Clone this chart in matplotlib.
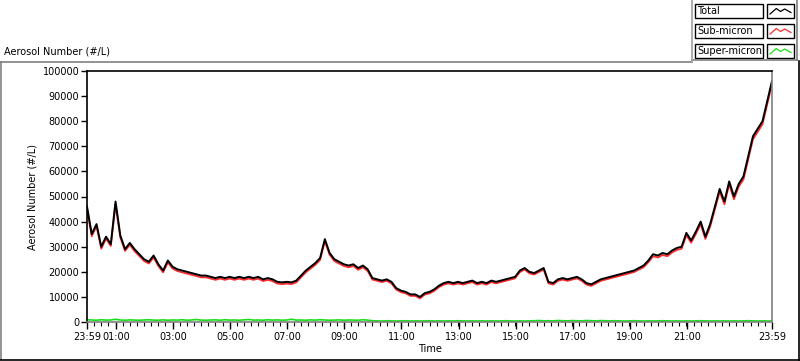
import numpy as np
import matplotlib
matplotlib.use("Agg")
import matplotlib.pyplot as plt
from matplotlib.patches import Rectangle
from matplotlib.lines import Line2D

plt.rcParams['font.family'] = ['DejaVu Sans']
plt.rcParams['font.size'] = 7

# ---------------- data (10-minute samples starting 23:59) ----------------
step_minutes = 10

total = [
    46000, 35000, 39000, 30000, 34000, 31000, 48000, 34500, 29000, 31500,
    29000, 27000, 25000, 24000, 26500, 23000, 20500, 24500, 22000, 21000,
    20500, 20000, 19500, 19000, 18500, 18500, 18000, 17500, 18000, 17500,
    18000, 17500, 18000, 17500, 18000, 17500, 18000, 17000, 17500, 17000,
    16000, 15800, 16000, 15800, 16500, 18500, 20500, 22000, 23500, 25500,
    33000, 27500, 25000, 24000, 23000, 22500, 23000, 21500, 22500, 21000,
    17500, 17000, 16500, 17000, 16000, 13500, 12500, 12000, 11000, 11000,
    10000, 11500, 12000, 13000, 14500, 15500, 16000, 15500, 16000, 15500,
    16000, 16500, 15500, 16000, 15500, 16500, 16000, 16500, 17000, 17500,
    18000, 20500, 21500, 20000, 19500, 20500, 21500, 16000, 15500, 17000,
    17500, 17000, 17500, 18000, 17000, 15500, 15000, 16000, 17000, 17500,
    18000, 18500, 19000, 19500, 20000, 20500, 21500, 22500, 24500, 27000,
    26500, 27500, 27000, 28500, 29500, 30000, 35500, 32500, 36000, 40000,
    34000, 39000, 46000, 53000, 48000, 56000, 50000, 55000, 58000, 66000,
    74000, 77000, 80000, 88000, 96000,
]

sub_micron = [
    45000, 34200, 38200, 29200, 33200, 30300, 46800, 33700, 28300, 30800,
    28200, 26300, 24300, 23300, 25700, 22300, 19800, 23700, 21300, 20300,
    19800, 19300, 18800, 18300, 17800, 17800, 17300, 16800, 17300, 16800,
    17300, 16800, 17300, 16800, 17300, 16800, 17300, 16300, 16800, 16300,
    15300, 15100, 15300, 15100, 15800, 17800, 19800, 21300, 22800, 24700,
    32200, 26800, 24300, 23300, 22300, 21800, 22300, 20800, 21800, 20300,
    16900, 16400, 15900, 16400, 15400, 12900, 11900, 11400, 10400, 10400,
    9400, 10900, 11400, 12400, 13900, 14900, 15400, 14900, 15400, 14900,
    15400, 15900, 14900, 15400, 14900, 15900, 15400, 15900, 16400, 16900,
    17400, 19900, 20900, 19400, 18900, 19900, 20900, 15400, 14900, 16400,
    16900, 16400, 16900, 17400, 16400, 14900, 14400, 15400, 16400, 16900,
    17400, 17900, 18400, 18900, 19400, 19900, 20900, 21800, 23800, 26200,
    25700, 26700, 26200, 27700, 28700, 29200, 34600, 31600, 35100, 39000,
    33100, 38000, 45000, 51900, 46900, 54900, 48900, 53900, 56800, 64800,
    72800, 75800, 78800, 86800, 94800,
]

super_micron = [
    900, 800, 700, 900, 750, 800, 1100, 800, 700, 850,
    750, 700, 800, 900, 750, 700, 850, 700, 800, 750,
    900, 700, 800, 1000, 750, 700, 800, 850, 700, 900,
    750, 800, 700, 850, 1000, 750, 800, 700, 900, 750,
    850, 700, 800, 1100, 750, 800, 700, 850, 750, 900,
    800, 700, 750, 850, 700, 800, 750, 700, 900, 750,
    500, 450, 400, 500, 450, 400, 450, 500, 400, 450,
    400, 450, 500, 400, 450, 400, 450, 400, 500, 450,
    400, 450, 400, 450, 400, 450, 400, 450, 500, 450,
    400, 450, 400, 450, 500, 600, 450, 500, 450, 600,
    500, 450, 550, 500, 450, 600, 500, 450, 550, 500,
    450, 500, 450, 400, 450, 500, 450, 400, 450, 400,
    450, 500, 450, 400, 450, 400, 450, 400, 450, 500,
    450, 400, 450, 400, 450, 400, 450, 400, 450, 500,
    450, 400, 450, 400, 450,
]

x_tick_labels = ['23:59', '01:00', '03:00', '05:00', '07:00', '09:00', '11:00',
                 '13:00', '15:00', '17:00', '19:00', '21:00', '23:59']
y_ticks = [0, 10000, 20000, 30000, 40000, 50000, 60000, 70000, 80000, 90000, 100000]
series_names = ['Total', 'Sub-micron', 'Super-micron']
series_colors = ['#000000', '#ff2a2a', '#18e018']

# ---------------- figure ----------------
W, H = 800, 361
fig = plt.figure(figsize=(W / 100, H / 100), dpi=100)
fig.patch.set_facecolor('white')


def fx(x):
    return x / W


def fy(y):
    return 1 - y / H


# outer frame (3d style)
frame_lines = [
    ((0, 692), (61.5, 61.5), '#808080'),
    ((1, 1), (61.5, 359), '#808080'),
    ((0, 800), (359.5, 359.5), '#000000'),
    ((798.5, 798.5), (61, 360), '#000000'),
    ((692, 797), (60, 60), '#808080'),
    ((692, 692), (0, 61), '#a0a0a0'),
    ((796.5, 796.5), (0, 60), '#808080'),
]
for xs, ys, c in frame_lines:
    fig.add_artist(Line2D([fx(v) for v in xs], [fy(v) for v in ys],
                          color=c, lw=1.2, transform=fig.transFigure))

# main axes
ax = fig.add_axes([fx(87), fy(322), (772 - 87) / W, (322 - 71) / H])
n = len(total)
hours = np.arange(n) * step_minutes / 60.0

ax.plot(hours, super_micron, color=series_colors[2], lw=1.2)
ax.plot(hours, sub_micron, color=series_colors[1], lw=1.3)
ax.plot(hours, total, color=series_colors[0], lw=1.4)

ax.set_xlim(0, 24)
ax.set_ylim(0, 100000)


def label_to_hours(lbl, i):
    if i == len(x_tick_labels) - 1:
        return 24.0
    h, m = map(int, lbl.split(':'))
    return ((h * 60 + m + 1) % 1440) / 60.0


xt = [label_to_hours(l, i) for i, l in enumerate(x_tick_labels)]
ax.set_xticks(xt)
ax.set_xticklabels(x_tick_labels)
ax.set_xticks(np.arange(0.25, 24, 0.25), minor=True)
ax.set_yticks(y_ticks)
ax.set_yticklabels([str(v) for v in y_ticks])

ax.tick_params(axis='y', which='major', length=4, width=1, color='black', pad=1.5,
               labelsize=7)
ax.tick_params(axis='x', which='major', length=5, width=1, color='black', pad=2,
               labelsize=7)
ax.tick_params(axis='x', which='minor', length=3, width=0.8, color='black')

ax.spines['left'].set_color('black')
ax.spines['top'].set_color('black')
ax.spines['right'].set_color('#808080')
ax.spines['bottom'].set_color('#808080')
for s in ax.spines.values():
    s.set_linewidth(1.2)

ax.set_xlabel('Time', fontsize=7, labelpad=2)
ax.set_ylabel('Aerosol Number (#/L)', fontsize=7, labelpad=4)

fig.text(fx(4), fy(51), 'Aerosol Number (#/L)', fontsize=7, va='center', ha='left')

# legend panel
rows_y = [(4, 18), (24, 38), (44, 58)]
for (y0, y1), name, col in zip(rows_y, series_names, series_colors):
    fig.add_artist(Rectangle((fx(695), fy(y1)), (763 - 695) / W, (y1 - y0) / H,
                             fill=False, ec='black', lw=1, transform=fig.transFigure))
    fig.text(fx(697), fy((y0 + y1) / 2 + 0.5), name, fontsize=7, va='center', ha='left')
    fig.add_artist(Rectangle((fx(767), fy(y1)), (794 - 767) / W, (y1 - y0) / H,
                             fill=False, ec='black', lw=1, transform=fig.transFigure))
    lax = fig.add_axes([fx(769), fy(y1 - 2), (792 - 769) / W, (y1 - y0 - 4) / H])
    lax.plot([0, 0.3, 0.5, 0.7, 1.0], [0.2, 0.75, 0.45, 0.7, 0.35], color=col, lw=0.9)
    lax.set_xlim(-0.05, 1.05)
    lax.set_ylim(0, 1)
    lax.axis('off')

fig.savefig('out.png', dpi=100)
